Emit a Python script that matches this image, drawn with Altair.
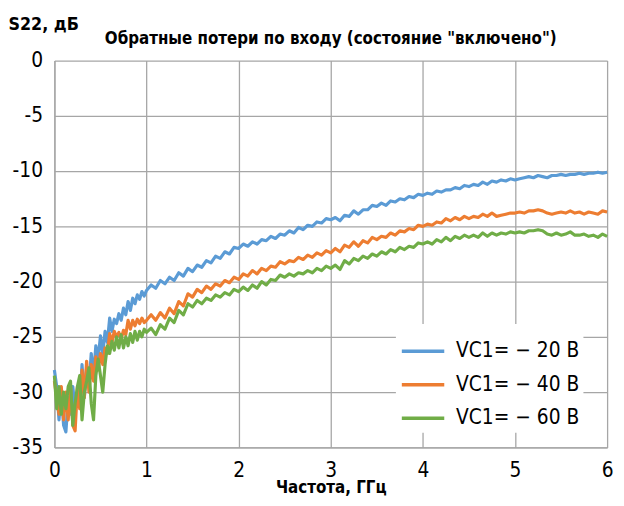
import altair as alt
import pandas as pd

# frequency grids (GHz)
freq_low = [round(i * 0.025, 3) for i in range(41)]          # 0 .. 1.0
freq_high = [round(1.0 + i * 0.05, 3) for i in range(1, 101)]  # 1.05 .. 6.0

series_names = ["VC1= \u2212 20 В", "VC1= \u2212 40 В", "VC1= \u2212 60 В"]
series_colors = ["#5B9BD5", "#ED7D31", "#70AD47"]

vc20_low = [-28.0, -29.5, -32.5, -30.0, -33.0, -33.6, -30.5, -32.0, -29.5, -31.5,
            -30.0, -31.0, -27.5, -30.5, -27.8, -29.5, -26.5, -28.5, -25.8, -27.0,
            -24.9, -26.5, -24.5, -25.5, -23.3, -24.5, -23.4, -23.8, -22.9, -23.5,
            -22.4, -23.0, -21.8, -22.6, -21.5, -22.0, -21.2, -21.6, -20.9, -21.3,
            -20.8]
vc20_high = [-20.3, -20.6, -19.9, -20.2, -19.6, -19.9, -19.2, -19.5, -18.8, -19.1,
             -18.5, -18.7, -18.1, -18.3, -17.7, -17.9, -17.3, -17.5, -16.9, -17.0,
             -16.6, -16.8, -16.4, -16.6, -16.2, -16.3, -15.9, -16.1, -15.7, -15.8,
             -15.4, -15.6, -15.1, -15.3, -14.9, -15.0, -14.6, -14.7, -14.3, -14.4,
             -14.2, -14.5, -14.0, -14.1, -13.6, -13.9, -13.5, -13.5, -13.1, -13.2,
             -12.9, -13.1, -12.7, -12.8, -12.5, -12.6, -12.3, -12.4, -12.1, -12.2,
             -12.0, -12.1, -11.8, -11.9, -11.7, -11.7, -11.5, -11.6, -11.3, -11.4,
             -11.2, -11.3, -11.0, -11.2, -10.9, -11.0, -10.8, -10.9, -10.7, -10.8,
             -10.7, -10.6, -10.5, -10.6, -10.4, -10.5, -10.6, -10.4, -10.4, -10.3,
             -10.4, -10.3, -10.3, -10.2, -10.3, -10.2, -10.2, -10.1, -10.2, -10.1]

vc40_low = [-29.0, -30.5, -32.0, -29.5, -32.5, -30.0, -32.5, -29.5, -33.0, -33.5,
            -29.5, -31.5, -28.0, -30.5, -27.2, -30.0, -27.5, -29.0, -26.8, -28.0,
            -26.5, -27.5, -26.0, -26.5, -24.7, -25.5, -24.5, -25.0, -24.6, -25.2,
            -24.4, -24.8, -23.5, -24.3, -23.5, -24.0, -23.4, -23.8, -23.3, -23.7,
            -23.5]
vc40_high = [-23.0, -23.5, -22.8, -23.3, -22.4, -22.9, -21.8, -22.2, -21.1, -21.4,
             -20.7, -21.0, -20.4, -20.7, -20.2, -20.4, -19.9, -20.1, -19.6, -19.8,
             -19.3, -19.5, -19.0, -19.3, -18.8, -19.0, -18.6, -18.7, -18.2, -18.4,
             -18.1, -18.2, -17.8, -18.0, -17.6, -17.8, -17.4, -17.6, -17.2, -17.4,
             -17.0, -17.3, -16.7, -16.9, -16.4, -16.8, -16.3, -16.5, -16.0, -16.2,
             -15.9, -16.0, -15.6, -15.8, -15.4, -15.5, -15.2, -15.3, -14.9, -15.0,
             -14.8, -14.9, -14.6, -14.7, -14.3, -14.5, -14.2, -14.4, -14.1, -14.3,
             -14.1, -14.2, -13.9, -14.1, -13.8, -14.1, -14.0, -13.9, -13.8, -13.8,
             -13.7, -13.8, -13.6, -13.6, -13.5, -13.6, -13.8, -13.9, -13.8, -13.7,
             -13.8, -13.6, -13.8, -13.7, -13.9, -13.7, -13.8, -13.9, -13.6, -13.7]

vc60_low = [-28.5, -31.5, -29.5, -32.0, -30.0, -31.5, -29.5, -29.0, -33.0, -31.0,
            -29.5, -28.5, -32.5, -30.0, -29.0, -27.8, -31.0, -32.5, -28.5, -27.0,
            -28.5, -30.0, -27.5, -25.8, -26.5, -25.4, -26.2, -25.0, -26.0, -24.8,
            -26.0, -25.0, -25.8, -24.7, -25.5, -24.5, -25.3, -24.5, -25.0, -24.3,
            -24.6]
vc60_high = [-24.2, -24.8, -23.9, -24.3, -23.3, -23.7, -22.6, -23.0, -22.0, -22.3,
             -21.7, -22.0, -21.5, -21.7, -21.2, -21.4, -21.0, -21.2, -20.7, -20.9,
             -20.5, -20.8, -20.3, -20.6, -20.0, -20.3, -19.8, -19.9, -19.4, -19.6,
             -19.3, -19.5, -19.2, -19.3, -19.0, -19.2, -18.8, -19.0, -18.6, -18.8,
             -18.5, -18.9, -18.1, -18.4, -17.9, -18.1, -17.7, -17.9, -17.5, -17.7,
             -17.3, -17.5, -17.1, -17.3, -16.9, -17.1, -16.8, -16.9, -16.5, -16.6,
             -16.4, -16.6, -16.2, -16.4, -16.0, -16.3, -15.9, -16.1, -15.8, -16.0,
             -15.8, -16.0, -15.6, -15.9, -15.6, -15.8, -15.6, -15.7, -15.5, -15.6,
             -15.5, -15.6, -15.4, -15.4, -15.3, -15.4, -15.7, -15.8, -15.6, -15.8,
             -15.7, -15.5, -15.8, -15.8, -15.7, -15.9, -15.8, -16.0, -15.7, -15.9]

y_ticks = [0, -5, -10, -15, -20, -25, -30, -35]
x_ticks = [0, 1, 2, 3, 4, 5, 6]

freqs = freq_low + freq_high
rows = []
for name, lo, hi in zip(series_names, [vc20_low, vc40_low, vc60_low],
                        [vc20_high, vc40_high, vc60_high]):
    for f, v in zip(freqs, lo + hi):
        rows.append({"f": f, "s22": v, "series": name})
df = pd.DataFrame(rows)

FONT = "'Liberation Sans Narrow', 'DejaVu Sans Condensed', 'Liberation Sans', Arial, sans-serif"
GRID = "#a6a6a6"

chart = alt.Chart(df).mark_line(strokeWidth=3.2, strokeJoin="round").encode(
    x=alt.X("f:Q",
            scale=alt.Scale(domain=[0, 6], nice=False),
            axis=alt.Axis(values=x_ticks, title="Частота, ГГц", ticks=False,
                          labelFlush=False,
                          labelFontSize=21, labelPadding=12, labelColor="#000",
                          labelFont=FONT, titleFont=FONT,
                          titleFontSize=17, titleFontWeight="bold", titleColor="#000",
                          titlePadding=0, gridColor=GRID, gridWidth=1.3,
                          domainColor=GRID, domainWidth=1.3)),
    y=alt.Y("s22:Q",
            scale=alt.Scale(domain=[-35, 0], nice=False),
            axis=alt.Axis(values=y_ticks, title="S22, дБ", ticks=False,
                          labelExpr="'' + datum.value", labelFlush=False,
                          labelFont=FONT, titleFont=FONT,
                          labelFontSize=21, labelPadding=12, labelColor="#000",
                          titleFontSize=18, titleFontWeight="bold", titleColor="#000",
                          titleAngle=0, titleAlign="left", titleBaseline="alphabetic",
                          titleX=-47, titleY=-31,
                          gridColor=GRID, gridWidth=1.3,
                          domainColor=GRID, domainWidth=1.3)),
    color=alt.Color("series:N",
                    scale=alt.Scale(domain=series_names, range=series_colors),
                    legend=alt.Legend(title=None, orient="none", legendX=346, legendY=267,
                                      symbolType="stroke", symbolSize=1849,
                                      symbolStrokeWidth=3.5, labelFontSize=21,
                                      labelFont=FONT, labelColor="#000",
                                      rowPadding=0, labelOffset=10,
                                      fillColor="white", padding=4)),
).properties(
    width=560, height=392,
    padding={"left": 47, "top": 50, "right": 9, "bottom": 48},
    autosize=alt.AutoSizeParams(type="none"),
    title=alt.TitleParams("Обратные потери по входу (состояние \"включено\")",
                          fontSize=17, fontWeight="bold", font=FONT, color="#000",
                          anchor="middle", offset=-32),
).configure_view(stroke=None)

chart.save("out.html", embed_options={"renderer": "svg", "actions": False})
